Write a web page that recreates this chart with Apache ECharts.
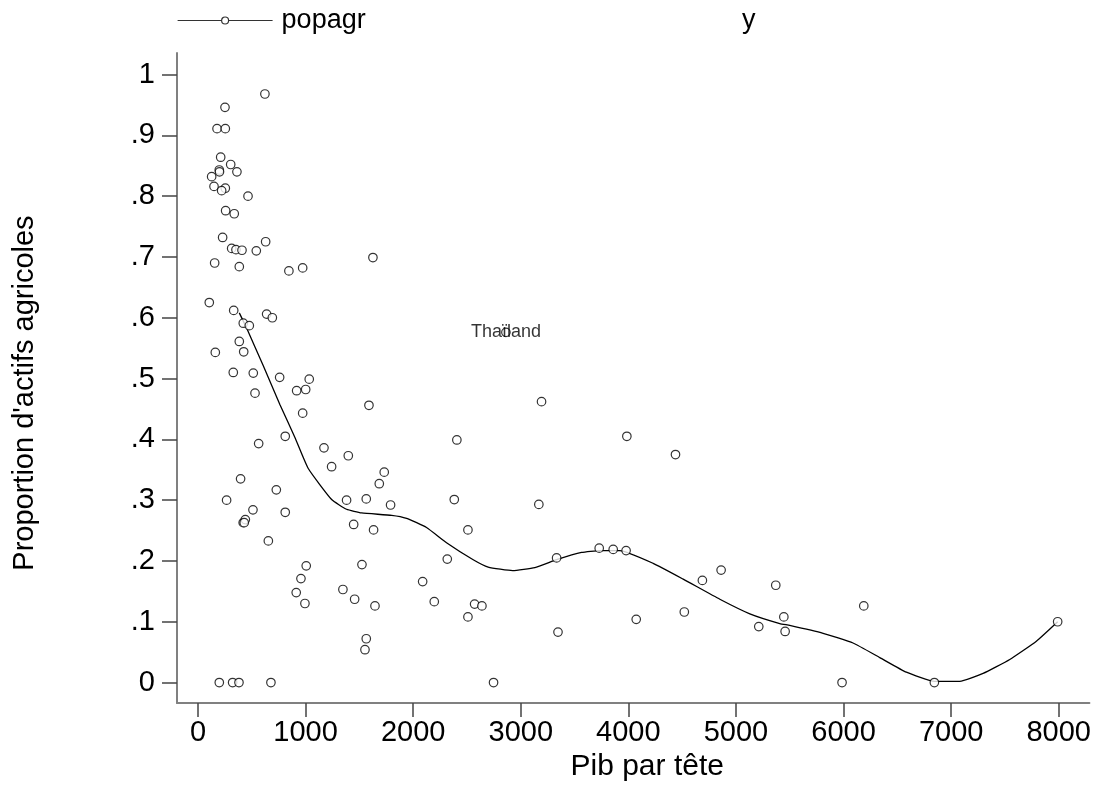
<!DOCTYPE html>
<html>
<head>
<meta charset="utf-8">
<title>popagr</title>
<script src="https://cdn.jsdelivr.net/npm/echarts@6/dist/echarts.min.js"></script>
<style>
  html, body { margin: 0; padding: 0; overflow: hidden; background: #fff; }
  #main { width: 1094px; height: 787px; }
</style>
</head>
<body>
<div id="main"></div>
<script>
// Pib par tête (x) et proportion d'actifs agricoles (y)
var pib = [
  622, 251, 177, 254, 211, 304, 198, 200, 362, 127, 149, 254, 220, 465, 257, 337,
  229, 629, 313, 353, 409, 542, 155, 384, 845, 973,
  105, 332, 638, 691, 421, 477, 384, 161, 425, 328, 514, 759, 1034, 917, 1001, 530,
  973, 811, 564, 1171,
  396, 728, 266, 511, 811, 420, 440, 430, 654, 1006, 957, 913, 994, 198, 322, 381, 678,
  1626, 2862, 1589, 2406, 1397,
  1242, 1731, 1685, 1381, 1564, 1790, 2382, 1447, 1632, 2509, 2317, 1524, 2088, 1347,
  1456, 2196, 1645, 2571, 2639, 2509, 1564, 1552, 2747,
  3193, 3986, 4438, 3168,
  3333, 3729, 3859, 3979, 4862, 4688, 5370, 4520, 4073, 3346, 5212,
  6188, 5445, 5457, 5986, 6844, 7990
];
var popagr = [
  0.968, 0.946, 0.911, 0.911, 0.864, 0.852, 0.843, 0.840, 0.840, 0.832, 0.816, 0.813, 0.809, 0.800, 0.776, 0.771,
  0.732, 0.725, 0.714, 0.712, 0.711, 0.710, 0.690, 0.684, 0.677, 0.682,
  0.625, 0.612, 0.606, 0.600, 0.591, 0.587, 0.561, 0.543, 0.544, 0.510, 0.509, 0.502, 0.499, 0.480, 0.482, 0.476,
  0.443, 0.405, 0.393, 0.386,
  0.335, 0.317, 0.300, 0.284, 0.280, 0.263, 0.268, 0.263, 0.233, 0.192, 0.171, 0.148, 0.130, 0, 0, 0, 0,
  0.699, 0.576, 0.456, 0.399, 0.373,
  0.355, 0.346, 0.327, 0.300, 0.302, 0.292, 0.301, 0.260, 0.251, 0.251, 0.203, 0.194, 0.166, 0.153,
  0.137, 0.133, 0.126, 0.129, 0.126, 0.108, 0.072, 0.054, 0,
  0.462, 0.405, 0.375, 0.293,
  0.205, 0.221, 0.219, 0.217, 0.185, 0.168, 0.160, 0.116, 0.104, 0.083, 0.092,
  0.126, 0.108, 0.084, 0, 0, 0.100
];
// point annoté
var labelPib = 2862;
var labelText = 'Thaïland';

// courbe lissée (y)
var lowessX = [
  384, 452, 607, 762, 901, 1025, 1242, 1381, 1521, 1800, 1939, 2124, 2310, 2558, 2697,
  2924, 3131, 3333, 3565, 3735, 3921, 4231, 4510, 4850, 5129, 5407, 5500, 5810, 6088,
  6337, 6584, 6844, 7080, 7297, 7545, 7792, 7990
];
var lowessY = [
  0.608, 0.583, 0.521, 0.457, 0.403, 0.352, 0.301, 0.285, 0.279, 0.275, 0.270, 0.255, 0.230, 0.202, 0.190,
  0.184, 0.189, 0.202, 0.214, 0.217, 0.217, 0.196, 0.170, 0.137, 0.113, 0.097, 0.094, 0.081, 0.065,
  0.041, 0.017, 0.002, 0.002, 0.015, 0.038, 0.068, 0.100
];

var xTicks = [0, 1000, 2000, 3000, 4000, 5000, 6000, 7000, 8000];
var yTicks = [0, 0.1, 0.2, 0.3, 0.4, 0.5, 0.6, 0.7, 0.8, 0.9, 1];

var FONT = '"Liberation Sans", Arial, Helvetica, sans-serif';
var FS = 29;

var scatterData = pib.map(function (x, i) {
  var item = { value: [x, popagr[i]] };
  if (x === labelPib) {
    item.label = {
      show: true,
      formatter: labelText,
      position: 'inside',
      offset: [0, 0],
      color: '#000',
      textBorderWidth: 0,
      fontSize: 18,
      fontFamily: FONT
    };
  }
  return item;
});
var lineData = lowessX.map(function (x, i) { return [x, lowessY[i]]; });

var myChart = echarts.init(document.getElementById('main'));
myChart.setOption({
  animation: false,
  backgroundColor: '#fff',
  textStyle: { fontFamily: FONT, color: '#000' },
  legend: [
    {
      data: [{
        name: 'popagr',
        icon: 'path://M0,3.5L44,3.5M51,3.5A3.5,3.5,0,1,1,44,3.5A3.5,3.5,0,1,1,51,3.5M51,3.5L95,3.5'
      }],
      left: 177,
      top: 7,
      padding: 0,
      itemWidth: 95,
      itemHeight: 7,
      itemStyle: { color: '#fff', borderColor: '#000', borderWidth: 1.2 },
      textStyle: { fontSize: 27, fontFamily: FONT, color: '#000', padding: [0, 0, 0, 4] }
    },
    {
      data: [{ name: 'y', icon: 'none' }],
      left: 737,
      top: 7,
      padding: 0,
      itemWidth: 0,
      textStyle: { fontSize: 27, fontFamily: FONT, color: '#000' }
    }
  ],
  grid: { left: 177, right: 4, top: 53, bottom: 70 },
  xAxis: {
    type: 'value',
    min: -195,
    max: 8285,
    name: 'Pib par tête',
    nameLocation: 'middle',
    nameGap: 42,
    nameTextStyle: { fontSize: 30, fontFamily: FONT, color: '#000', padding: [0, 0, 0, 28] },
    splitLine: { show: false },
    axisLine: { onZero: false, lineStyle: { color: '#808080', width: 2 } },
    axisTick: { customValues: xTicks, length: 14, lineStyle: { color: '#444', width: 1.5 } },
    axisLabel: {
      customValues: xTicks,
      margin: 15,
      fontSize: FS,
      fontFamily: FONT,
      color: '#000',
      formatter: function (v) { return String(v); }
    }
  },
  yAxis: {
    type: 'value',
    min: -0.0338,
    max: 1.0354,
    name: "Proportion d'actifs agricoles",
    nameLocation: 'middle',
    nameGap: 138,
    nameTextStyle: { fontSize: FS, fontFamily: FONT, color: '#000', padding: [0, 30, 0, 0] },
    splitLine: { show: false },
    axisLine: { show: true, onZero: false, lineStyle: { color: '#808080', width: 2 } },
    axisTick: { show: true, customValues: yTicks, length: 15, lineStyle: { color: '#444', width: 1.5 } },
    axisLabel: {
      customValues: yTicks,
      margin: 22,
      fontSize: FS,
      fontFamily: FONT,
      color: '#000',
      formatter: function (v) {
        var s = String(Math.round(v * 10) / 10);
        return s.charAt(0) === '0' && s.length > 1 ? s.slice(1) : s;
      }
    }
  },
  series: [
    {
      name: 'popagr',
      type: 'scatter',
      symbol: 'circle',
      symbolSize: 8.5,
      itemStyle: { color: '#fff', borderColor: '#000', borderWidth: 1.2 },
      z: 3,
      data: scatterData
    },
    {
      name: 'y',
      type: 'line',
      showSymbol: false,
      symbol: 'none',
      smooth: 0.15,
      lineStyle: { color: '#000', width: 1.3 },
      z: 2,
      data: lineData
    }
  ]
});
</script>
</body>
</html>
